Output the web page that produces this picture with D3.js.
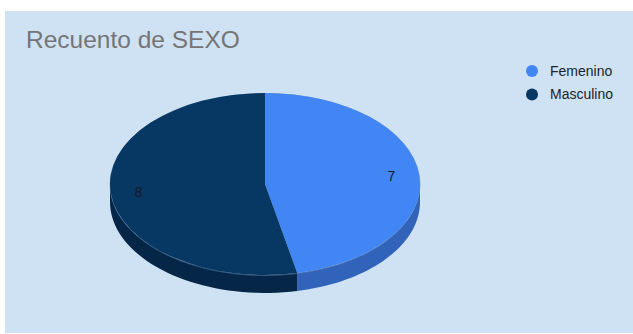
<!DOCTYPE html>
<html>
<head>
<meta charset="utf-8">
<script src="https://cdn.jsdelivr.net/npm/d3@7"></script>
<style>
  body { margin: 0; background: #ffffff; }
  svg { display: block; font-family: "Liberation Sans", Arial, sans-serif; }
</style>
</head>
<body>
<svg id="chart" width="633" height="334"></svg>
<script>
// the data
const categories = ["Femenino", "Masculino"];
const counts = [7, 8];
const topColors = ["#4285f4", "#073763"];
const sideColors = ["#3263bb", "#052646"];
const title = "Recuento de SEXO";

let svg = d3.select("#chart"),
  width = +svg.attr("width"),
  height = +svg.attr("height");

// panel
svg.append("rect")
  .attr("x", 5).attr("y", 11)
  .attr("width", width - 5).attr("height", height - 12)
  .attr("fill", "#cfe2f3");

svg.append("text")
  .attr("x", 26).attr("y", 48)
  .attr("font-size", 24.5)
  .attr("fill", "#757575")
  .text(title);

// pie geometry
const cx = 265, cy = 184, rx = 155, ry = 91, depth = 18;

let pie = d3.pie().sort(null).value(d => d.value);
let slices = pie(categories.map((c, i) => ({name: c, value: counts[i], i: i})));

let color = d3.scaleOrdinal().domain(categories).range(topColors);
let side = d3.scaleOrdinal().domain(categories).range(sideColors);

let pt = (a, dy) => [cx + rx * Math.sin(a), cy - ry * Math.cos(a) + dy];

// side walls: only the front half (angles between PI/2 and 3PI/2) is visible
function sidePath(d) {
  let a0 = Math.max(d.startAngle, Math.PI / 2);
  let a1 = Math.min(d.endAngle, Math.PI * 1.5);
  if (a1 <= a0) return null;
  let n = 40, upper = [], lower = [];
  for (let k = 0; k <= n; k++) {
    let a = a0 + (a1 - a0) * k / n;
    upper.push(pt(a, 0));
    lower.push(pt(a, depth));
  }
  return d3.line()(upper.concat(lower.reverse())) + "Z";
}

svg.append("g")
  .selectAll("path")
  .data(slices)
  .enter()
  .append("path")
  .attr("d", sidePath)
  .attr("fill", d => side(d.data.name));

// faint rim highlight on the edge of the top face
svg.append("ellipse")
  .attr("cx", cx).attr("cy", cy + 0.5)
  .attr("rx", rx).attr("ry", ry)
  .attr("fill", "none")
  .attr("stroke", "#5a7fa8")
  .attr("stroke-opacity", 0.6)
  .attr("stroke-width", 1);

let arc = d3.arc().innerRadius(0).outerRadius(rx);
let face = svg.append("g")
  .attr("transform", `translate(${cx},${cy}) scale(1,${ry / rx})`);

face.selectAll("path")
  .data(slices)
  .enter()
  .append("path")
  .attr("d", arc)
  .attr("fill", d => color(d.data.name));

// value labels
let labelArc = d3.arc().innerRadius(rx * 0.82).outerRadius(rx * 0.82);
svg.append("g")
  .selectAll("text")
  .data(slices)
  .enter()
  .append("text")
  .attr("x", d => cx + labelArc.centroid(d)[0])
  .attr("y", d => cy + labelArc.centroid(d)[1] * ry / rx)
  .attr("dy", "0.35em")
  .attr("text-anchor", "middle")
  .attr("font-size", 14)
  .attr("fill", "#151a2a")
  .text(d => d.data.value);

// legend
let legend = svg.append("g")
  .selectAll("g")
  .data(categories)
  .enter()
  .append("g")
  .attr("transform", (d, i) => `translate(532,${71 + i * 23.5})`);

legend.append("circle")
  .attr("r", 6)
  .attr("fill", d => color(d));

legend.append("text")
  .attr("x", 18)
  .attr("dy", "0.35em")
  .attr("font-size", 14)
  .attr("fill", "#222222")
  .text(d => d);
</script>
</body>
</html>
